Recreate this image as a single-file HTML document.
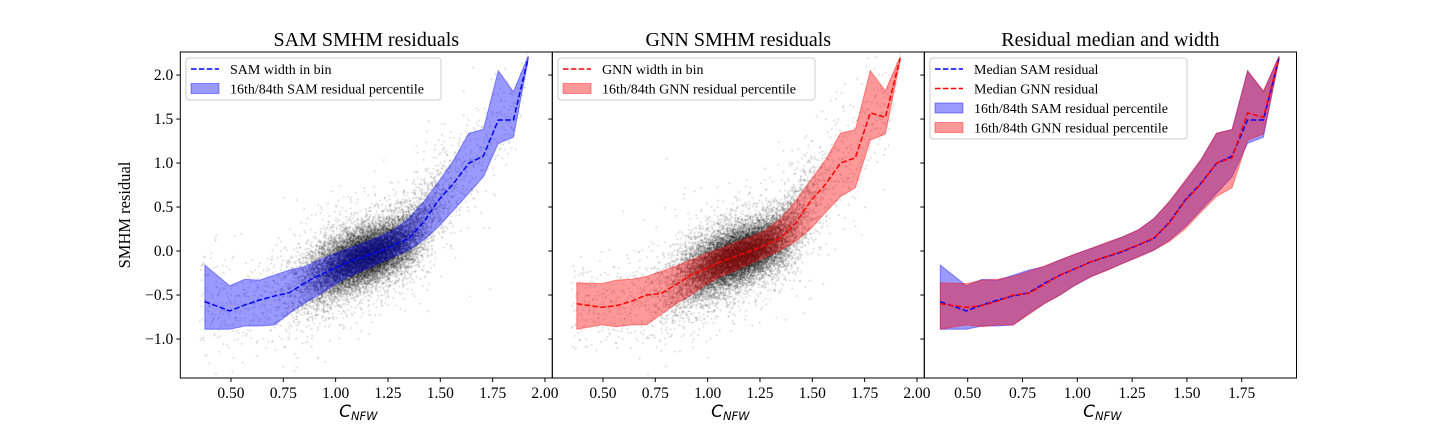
<!DOCTYPE html>
<html><head><meta charset="utf-8"><style>
html,body{margin:0;padding:0;background:#fff;width:1440px;height:432px;overflow:hidden}
#wrap{position:relative;width:1440px;height:432px}
canvas,svg{position:absolute;left:0;top:0}
text{font-family:"Liberation Serif","DejaVu Serif",serif}
</style></head><body>
<div id="wrap">
<canvas id="cv" width="1440" height="432"></canvas>
<svg id="sv" width="1440" height="432" xmlns="http://www.w3.org/2000/svg"></svg>
</div>
<script>
const binX = [0.375,0.494,0.565,0.637,0.708,0.779,0.850,0.922,0.993,1.064,1.136,1.207,1.278,1.350,1.421,1.492,1.564,1.635,1.706,1.777,1.849,1.920];
const samMed = [-0.576,-0.68,-0.614,-0.557,-0.511,-0.473,-0.367,-0.273,-0.197,-0.121,-0.064,-0.008,0.068,0.144,0.33,0.58,0.77,0.996,1.08,1.489,1.489,2.19];
const samHi = [-0.159,-0.394,-0.322,-0.33,-0.273,-0.216,-0.178,-0.102,-0.034,0.030,0.095,0.163,0.239,0.371,0.561,0.788,1.034,1.337,1.383,2.05,1.81,2.216];
const samLo = [-0.890,-0.890,-0.852,-0.852,-0.841,-0.708,-0.595,-0.5,-0.386,-0.292,-0.216,-0.140,-0.064,0.011,0.125,0.277,0.466,0.655,0.845,1.224,1.292,2.178];
const gnnMed = [-0.60,-0.64,-0.62,-0.57,-0.50,-0.48,-0.38,-0.27,-0.20,-0.12,-0.06,0.0,0.07,0.15,0.32,0.57,0.76,1.00,1.06,1.57,1.52,2.19];
const gnnHi = [-0.36,-0.37,-0.33,-0.32,-0.29,-0.23,-0.17,-0.10,-0.03,0.03,0.10,0.16,0.24,0.37,0.57,0.80,1.04,1.34,1.38,2.05,1.82,2.21];
const gnnLo = [-0.89,-0.84,-0.86,-0.84,-0.84,-0.72,-0.60,-0.50,-0.38,-0.29,-0.22,-0.14,-0.07,0.01,0.11,0.25,0.44,0.62,0.72,1.26,1.33,2.17];
const xTicks12 = ["0.50","0.75","1.00","1.25","1.50","1.75","2.00"];
const xTicks3 = ["0.50","0.75","1.00","1.25","1.50","1.75"];
const yTicks = ["-1.0","-0.5","0.0","0.5","1.0","1.5","2.0"];

const NS="http://www.w3.org/2000/svg";
const sv=document.getElementById('sv');
const ctx=document.getElementById('cv').getContext('2d');
const plotTop=52,plotBot=378,yMin=-1.443,yMax=2.262;
function ys(v){return plotBot-(v-yMin)/(yMax-yMin)*(plotBot-plotTop);}
function mk(tag,attrs,parent){const e=document.createElementNS(NS,tag);for(const k in attrs)e.setAttribute(k,attrs[k]);(parent||sv).appendChild(e);return e;}
const panels=[
 {l:180.3,r:552.3,xmin:0.258,xmax:2.035,ticks:xTicks12,title:"SAM SMHM residuals",name:"sam-panel"},
 {l:552.3,r:924.3,xmin:0.258,xmax:2.035,ticks:xTicks12,title:"GNN SMHM residuals",name:"gnn-panel"},
 {l:924.3,r:1296.5,xmin:0.302,xmax:2.0,ticks:xTicks3,title:"Residual median and width",name:"combined-panel"}];
panels.forEach(p=>{p.xs=v=>p.l+(v-p.xmin)/(p.xmax-p.xmin)*(p.r-p.l);});

function halton(i,b){let f=1,r=0;while(i>0){f/=b;r+=f*(i%b);i=Math.floor(i/b);}return r;}
function interp(arr,x){if(x<=binX[0])return arr[0];for(let i=1;i<binX.length;i++){if(x<=binX[i]){const t=(x-binX[i-1])/(binX[i]-binX[i-1]);return arr[i-1]+t*(arr[i]-arr[i-1]);}}return arr[arr.length-1];}
function drawScatter(p,med,hi,lo,off){
 ctx.save();ctx.beginPath();ctx.rect(p.l,plotTop,p.r-p.l,plotBot-plotTop);ctx.clip();
 ctx.fillStyle='rgba(0,0,0,0.26)';
 for(let i=1;i<16000;i++){
  const k=i+off;
  const u1=halton(k,2),u2=halton(k,3),u3=halton(k,5),u4=halton(k,7),u5=halton(k,11),u6=halton(k,13),u7=halton(k,17);
  const g=Math.sqrt(-2*Math.log(u1+1e-9))*Math.cos(2*Math.PI*u2);
  let x=1.15+0.15*g; if(u5<0.07) x=0.35+u6*1.57;
  if(x<0.33||x>1.95) continue;
  const z=Math.sqrt(-2*Math.log(u3+1e-9))*Math.cos(2*Math.PI*u4);
  const m=interp(med,x),w=(interp(hi,x)-interp(lo,x))/2;
  const y=m+z*w*(u7<0.15?1.8:0.95);
  ctx.fillRect(p.xs(x)-0.6,ys(y)-0.6,1.3,1.3);
 }
 ctx.restore();
}
drawScatter(panels[0],samMed,samHi,samLo,1);
drawScatter(panels[1],gnnMed,gnnHi,gnnLo,20011);

function band(p,hi,lo,fill,name){
 let d='';binX.forEach((x,i)=>{d+=(i?'L':'M')+p.xs(x).toFixed(1)+' '+ys(hi[i]).toFixed(1);});
 for(let i=binX.length-1;i>=0;i--)d+='L'+p.xs(binX[i]).toFixed(1)+' '+ys(lo[i]).toFixed(1);
 const e=mk('path',{d:d+'Z',fill:fill,'fill-opacity':0.4,stroke:fill,'stroke-opacity':0.4,'stroke-width':1});
 
 
}
function line(p,arr,col,name){
 const pts=binX.map((x,i)=>p.xs(x).toFixed(1)+','+ys(arr[i]).toFixed(1)).join(' ');
 const e=mk('polyline',{points:pts,fill:'none',stroke:col,'stroke-width':1.5,'stroke-dasharray':'5.5,2.4'});
 
 
}
band(panels[0],samHi,samLo,'#0000ff','sam-percentile-band');
line(panels[0],samMed,'#0000ff','sam-median-line');
band(panels[1],gnnHi,gnnLo,'#ff0000','gnn-percentile-band');
line(panels[1],gnnMed,'#ff0000','gnn-median-line');
band(panels[2],samHi,samLo,'#0000ff','combined-sam-band');
band(panels[2],gnnHi,gnnLo,'#ff0000','combined-gnn-band');
line(panels[2],samMed,'#0000ff','combined-sam-median');
line(panels[2],gnnMed,'#ff0000','combined-gnn-median');

panels.forEach((p,pi)=>{
 const fr=mk('rect',{x:p.l,y:plotTop,width:p.r-p.l,height:plotBot-plotTop,fill:'none',stroke:'#000','stroke-width':1});
 
 
 const t=mk('text',{x:(p.l+p.r)/2,y:46,'text-anchor':'middle','font-size':20});
 t.textContent=p.title;
 
 
 p.ticks.forEach(s=>{
  const x=p.xs(parseFloat(s));
  mk('line',{x1:x,x2:x,y1:plotBot,y2:plotBot+4,stroke:'#000','stroke-width':1});
  const tl=mk('text',{x:x,y:plotBot+20,'text-anchor':'middle','font-size':15.5});
  tl.textContent=s;
  
  
 });
 yTicks.forEach(s=>{
  const y=ys(parseFloat(s));
  mk('line',{x1:p.l-4,x2:p.l,y1:y,y2:y,stroke:'#000','stroke-width':1});
  if(pi===0){
   const tl=mk('text',{x:p.l-7,y:y+5,'text-anchor':'end','font-size':15.5});
   tl.textContent=s.replace('-','\u2212');
   
   
  }
 });
 const xl=mk('text',{x:(p.l+p.r)/2-8,y:417,'text-anchor':'middle','font-size':17,'font-style':'italic',style:'font-family:"DejaVu Sans",sans-serif'});
 xl.innerHTML='C<tspan font-size="11.5" dy="3">NFW</tspan>';
 
 
});
const yl=mk('text',{x:130,y:215,'text-anchor':'middle','font-size':16.5,transform:'rotate(-90 130 215)'});
yl.textContent='SMHM residual';



function legend(x,y,w,entries,name){
 const g=mk('g',{});
 
 
 mk('rect',{x:x,y:y,width:w,height:entries.length*19.5+3,rx:3,fill:'#fff','fill-opacity':0.8,stroke:'#ccc'},g);
 entries.forEach((en,i)=>{
  const cy=y+11+i*19.5;
  if(en.type==='line') mk('line',{x1:x+5,x2:x+33,y1:cy,y2:cy,stroke:en.col,'stroke-width':1.5,'stroke-dasharray':'5.5,2.4'},g);
  else mk('rect',{x:x+5,y:cy-5,width:28,height:10,fill:en.col,'fill-opacity':0.4,stroke:en.col,'stroke-opacity':0.4},g);
  const t=mk('text',{x:x+44,y:cy+5,'font-size':14});
  g.appendChild(t);
  t.textContent=en.label;
  
  
 });
}
legend(186,58,255,[{type:'line',col:'#0000ff',label:'SAM width in bin'},{type:'patch',col:'#0000ff',label:'16th/84th SAM residual percentile'}],'sam-legend');
legend(558,58,257,[{type:'line',col:'#ff0000',label:'GNN width in bin'},{type:'patch',col:'#ff0000',label:'16th/84th GNN residual percentile'}],'gnn-legend');
legend(930,58,257,[{type:'line',col:'#0000ff',label:'Median SAM residual'},{type:'line',col:'#ff0000',label:'Median GNN residual'},{type:'patch',col:'#0000ff',label:'16th/84th SAM residual percentile'},{type:'patch',col:'#ff0000',label:'16th/84th GNN residual percentile'}],'combined-legend');
</script>
</body></html>
